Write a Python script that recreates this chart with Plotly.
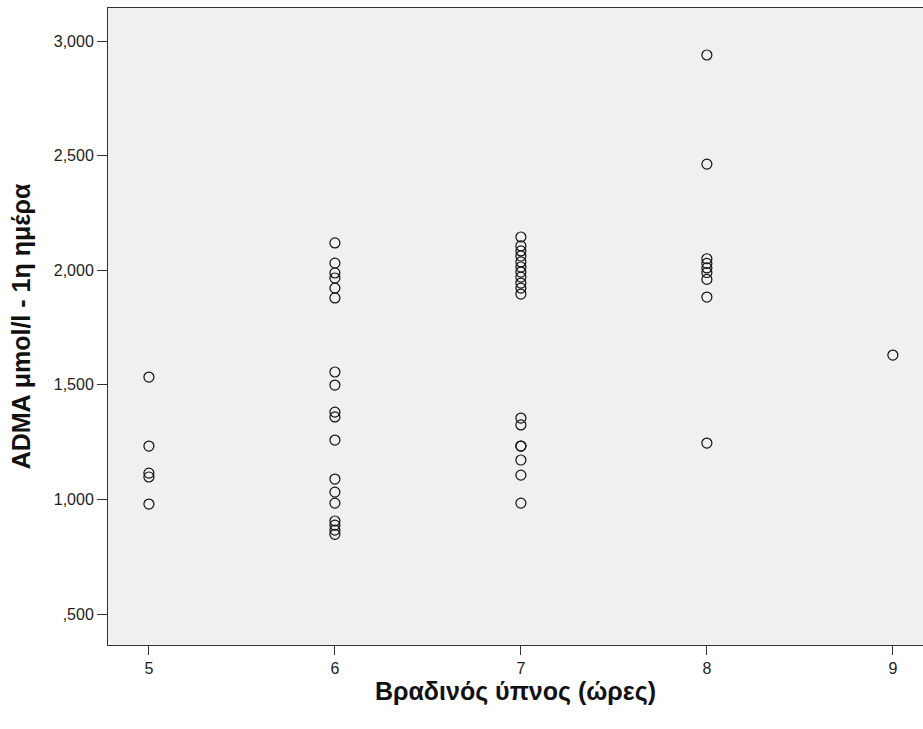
import plotly.graph_objects as go

# Night sleep duration (hours) and first-day ADMA (μmol/l) per subject, grouped by hours
sleep_5 = [5] * 5
adma_5 = [1.534, 1.233, 1.115, 1.098, 0.980]

sleep_6 = [6] * 18
adma_6 = [2.119, 2.031, 1.988, 1.966, 1.922, 1.879, 1.556, 1.499, 1.381, 1.360,
          1.259, 1.089, 1.032, 0.984, 0.906, 0.888, 0.866, 0.848]

sleep_7 = [7] * 18
adma_7 = [2.145, 2.106, 2.084, 2.062, 2.036, 2.014, 1.992, 1.970, 1.944, 1.922,
          1.896, 1.355, 1.325, 1.233, 1.233, 1.172, 1.106, 0.984]

sleep_8 = [8] * 9
adma_8 = [2.939, 2.463, 2.050, 2.030, 2.010, 1.990, 1.960, 1.883, 1.246]

sleep_9 = [9]
adma_9 = [1.630]

x_ticks = [5, 6, 7, 8, 9]
y_ticks = [0.5, 1.0, 1.5, 2.0, 2.5, 3.0]
y_tick_labels = [",500", "1,000", "1,500", "2,000", "2,500", "3,000"]

x_all = sleep_5 + sleep_6 + sleep_7 + sleep_8 + sleep_9
y_all = adma_5 + adma_6 + adma_7 + adma_8 + adma_9

FONT = "Liberation Sans, Arial, sans-serif"
LINE = "#333333"

fig = go.Figure()
fig.add_trace(go.Scatter(
    x=x_all, y=y_all, mode="markers",
    marker=dict(symbol="circle-open", size=10, color="#111111",
                line=dict(width=1.2, color="#111111")),
    showlegend=False, hoverinfo="x+y",
))

fig.update_layout(
    width=923, height=729,
    margin=dict(l=108, r=0, t=8, b=84),
    paper_bgcolor="white",
    plot_bgcolor="#f0f0f0",
    font=dict(family=FONT, size=12, color="#222222"),
    xaxis=dict(
        range=[4.78, 9.162], tickvals=x_ticks, ticktext=[str(v) for v in x_ticks],
        showgrid=False, zeroline=False,
        showline=True, linecolor=LINE, linewidth=1, mirror=True,
        ticks="outside", ticklen=9, tickcolor=LINE, tickwidth=1,
        tickfont=dict(size=16, color="#222222"),
        title=dict(text="<b>Βραδινός ύπνος (ώρες)</b>",
                   font=dict(size=25, color="#111111"), standoff=2),
    ),
    yaxis=dict(
        range=[0.365, 3.144], tickvals=y_ticks, ticktext=y_tick_labels,
        showgrid=False, zeroline=False,
        showline=True, linecolor=LINE, linewidth=1,
        ticks="outside", ticklen=10, tickcolor=LINE, tickwidth=1,
        tickfont=dict(size=16, color="#222222"),
        title=dict(text="<b>ADMA μmol/l - 1η ημέρα</b>",
                   font=dict(size=25, color="#111111"), standoff=16),
    ),
)

fig.write_html("out.html")
